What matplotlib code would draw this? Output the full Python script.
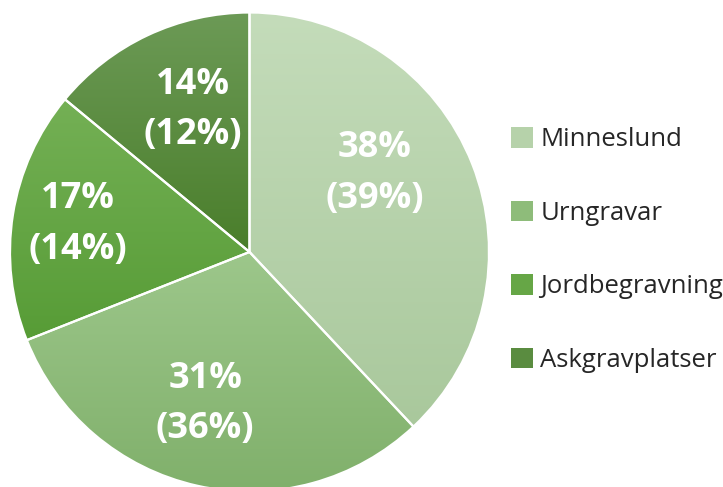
import numpy as np
import matplotlib.pyplot as plt
from matplotlib.colors import LinearSegmentedColormap
from matplotlib.patches import Patch

categories = ["Minneslund", "Urngravar", "Jordbegravning", "Askgravplatser"]
shares = [38, 31, 17, 14]
shares_prev = [39, 36, 14, 12]

# top / bottom colour of the vertical gradient in each slice
top_colors = ["#c4dcba", "#9dc78b", "#74b055", "#6c9a56"]
bottom_colors = ["#a9c89c", "#80b06b", "#579c36", "#4a7e2b"]
mid_colors = ["#b6d2aa", "#8ebc7a", "#66a646", "#5a8c40"]

# label centres (fraction of radius, angle in degrees)
label_pos = [(0.617, 31.9), (0.661, -106.3), (0.725, 171.0), (0.638, 111.7)]

fig = plt.figure(figsize=(7.23, 4.87), dpi=100)
ax = fig.add_axes([10 / 723, -4.5 / 487, 479 / 723, 479 / 487])

wedges, _ = ax.pie(shares, startangle=90, counterclock=False, radius=1,
                   colors=mid_colors,
                   wedgeprops=dict(edgecolor="white", linewidth=1.6))

grad = np.linspace(0, 1, 256).reshape(-1, 1)
for w, c1, c2 in zip(wedges, top_colors, bottom_colors):
    bb = w.get_path().get_extents(w.get_patch_transform())
    cmap = LinearSegmentedColormap.from_list("g", [c1, c2])
    im = ax.imshow(grad, cmap=cmap, aspect="auto", origin="upper",
                   extent=[bb.x0, bb.x1, bb.y0, bb.y1], zorder=w.get_zorder())
    im.set_clip_path(w)
    w.set_facecolor("none")
    w.set_zorder(w.get_zorder() + 0.5)

for (r, a), s, p in zip(label_pos, shares, shares_prev):
    x = r * np.cos(np.radians(a))
    y = r * np.sin(np.radians(a))
    ax.text(x, y, f"{s}%\n({p}%)", ha="center", va="center", color="white",
            fontsize=26, fontweight="bold", family="Open Sans",
            linespacing=1.55, zorder=10)

ax.set_xlim(-1, 1)
ax.set_ylim(-1, 1)
ax.set_aspect("equal")
ax.axis("off")

handles = [Patch(facecolor=c, edgecolor="none") for c in mid_colors]
fig.legend(handles, categories, loc="center left",
           bbox_to_anchor=(488 / 723, 1 - 250 / 487), frameon=False,
           prop={"family": "Open Sans", "size": 18.5},
           handlelength=0.86, handleheight=0.86, handletextpad=0.27,
           labelspacing=1.88, labelcolor="#262626")

fig.savefig("out.png", dpi=100)
